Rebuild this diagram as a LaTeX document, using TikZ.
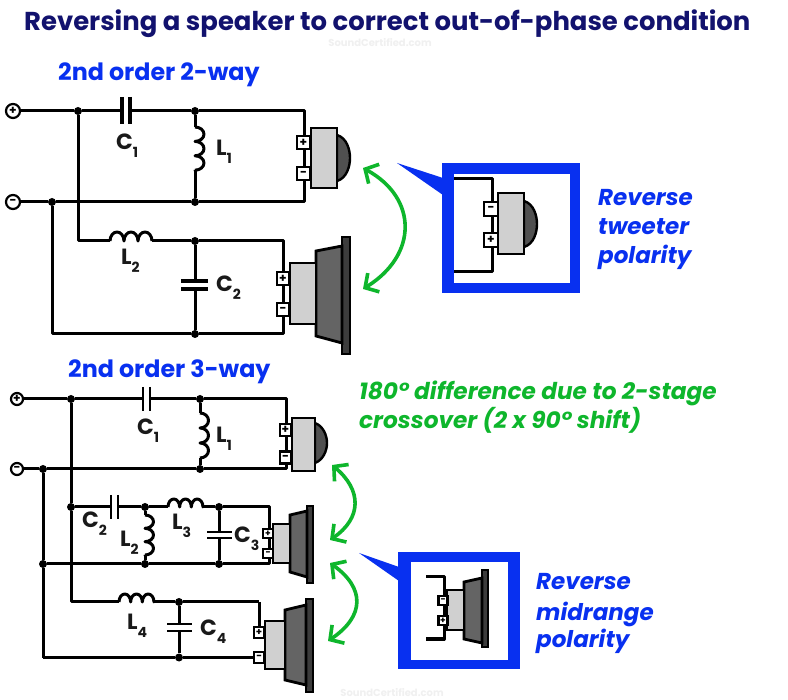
\documentclass[tikz,border=0pt]{standalone}
\usepackage{fontspec}
\setmainfont{Poppins}
\usetikzlibrary{arrows.meta}
\definecolor{bluemain}{RGB}{8,48,240}
\definecolor{navy}{RGB}{18,18,110}
\definecolor{greenmain}{RGB}{14,182,44}
\definecolor{magnetgray}{RGB}{208,208,208}
\definecolor{conegray}{RGB}{100,100,100}
\definecolor{domegray}{RGB}{80,80,80}
\definecolor{rimgray}{RGB}{60,60,60}
\tikzset{
  wire/.style={line width=3pt,black,line join=round},
  part/.style={line width=2.8pt,black,line join=miter},
  junction/.style={circle,fill=black,inner sep=0pt,minimum size=8pt},
  source/.style={circle,draw=black,fill=white,line width=2.2pt,inner sep=0pt,minimum size=14pt,font=\bfseries\fontsize{12}{12}\selectfont},
  termbox/.style={rectangle,draw=black,fill=white,line width=2.4pt,inner sep=0pt,font=\bfseries\fontsize{12}{12}\selectfont},
  heading/.style={anchor=base west,inner sep=0pt,text=bluemain,font=\bfseries\fontsize{23.8}{24}\selectfont},
  titletext/.style={anchor=base west,inner sep=0pt,text=navy,font=\bfseries\fontsize{25.9}{26}\selectfont},
  notetext/.style={anchor=base west,inner sep=0pt,text=greenmain,font=\bfseries\itshape\fontsize{23.2}{23}\selectfont},
  revtext/.style={anchor=base west,inner sep=0pt,text=bluemain,font=\bfseries\itshape\fontsize{23}{23}\selectfont},
  partlabel/.style={anchor=base west,inner sep=0pt,text=black!90,font=\bfseries\fontsize{22}{22}\selectfont},
  swing/.style={line width=3.6pt,greenmain,{Straight Barb[length=10pt,width=22pt]}-{Straight Barb[length=10pt,width=22pt]}},
  wmark/.style={anchor=base,inner sep=0pt,text=black!6,font=\bfseries\fontsize{10}{10}\selectfont},
}
% label with subscript
\newcommand{\plabel}[4]{\node[partlabel] (#1) at (#2) {#3\raisebox{-8pt}{\fontsize{14}{14}\selectfont #4}};}
% coils with three bumps
\newcommand{\coilV}[4]{\draw[wire] (#1) -- ++(0,0) arc[start angle=90,end angle=-90,x radius=#3pt,y radius=#2pt] arc[start angle=90,end angle=-90,x radius=#3pt,y radius=#2pt] arc[start angle=90,end angle=-90,x radius=#3pt,y radius=#2pt] -- (#4);}
\newcommand{\coilH}[4]{\draw[wire] (#1) -- ++(0,0) arc[start angle=180,end angle=0,x radius=#2pt,y radius=#3pt] arc[start angle=180,end angle=0,x radius=#2pt,y radius=#3pt] arc[start angle=180,end angle=0,x radius=#2pt,y radius=#3pt] -- (#4);}
\begin{document}
\begin{tikzpicture}[x=1pt,y=-1pt]
\useasboundingbox (0,0) rectangle (788,700);
\fill[white] (0,0) rectangle (788,700);

% ---------- texts
\node[titletext] (title) at (24,31) {Reversing a speaker to correct out-of-phase condition};
\node[wmark] (wm1) at (380,47) {SoundCertified.com};
\node[wmark] (wm2) at (392,696) {SoundCertified.com};
\node[heading] (h1) at (58,81) {2nd order 2-way};
\node[heading] (h2) at (68,378) {2nd order 3-way};
\node[notetext] (n1) at (359,400) {180° difference due to 2-stage};
\node[notetext] (n2) at (359,429) {crossover (2 x 90° shift)};
\node[revtext] (r1) at (598,206) {Reverse};
\node[revtext] (r2) at (598,235) {tweeter};
\node[revtext] (r3) at (598,264) {polarity};
\node[revtext] (r4) at (536,590) {Reverse};
\node[revtext] (r5) at (536,620) {midrange};
\node[revtext] (r6) at (536,648) {polarity};

% ---------- 2-way circuit
\coordinate (acornT) at (304,111);
\coordinate (acornB) at (304,202);
\node[junction] (aj1) at (78,111) {};
\node[junction] (aj2) at (195,111) {};
\node[junction] (aj3) at (52,202) {};
\node[junction] (aj4) at (195,202) {};
\node[junction] (aj5) at (195,241) {};
\node[junction] (aj6) at (195,334) {};
\coordinate (acapL) at (122,111);
\coordinate (acapR) at (130,111);
\coordinate (acoilT) at (195,127);
\coordinate (acoilB) at (195,170);
\coordinate (abend) at (78,241);
\coordinate (ahcoilL) at (110,241);
\coordinate (ahcoilR) at (152,241);
\coordinate (awT) at (283,241);
\coordinate (awB) at (283,334);
\coordinate (abendB) at (52,334);
\coordinate (avcapT) at (195,281);
\coordinate (avcapB) at (195,289);

\draw[wire] (aj1) -- (acapL);
\draw[wire] (acapR) -- (aj2);
\draw[wire] (aj2) -- (acornT) -- (acornB) -- (aj4);
\draw[wire] (aj2) -- (acoilT);
\coilV{acoilT}{7.2}{9}{acoilB}
\draw[wire] (acoilB) -- (aj4);
\draw[wire] (aj4) -- (aj3);
\draw[wire] (aj1) -- (abend) -- (ahcoilL);
\coilH{ahcoilL}{7}{9}{ahcoilR}
\draw[wire] (ahcoilR) -- (aj5);
\draw[wire] (aj5) -- (awT) -- (awB) -- (aj6);
\draw[wire] (aj5) -- (avcapT);
\draw[wire] (avcapB) -- (aj6);
\draw[wire] (aj6) -- (abendB) -- (aj3);
\draw[part,line width=3.2pt] (122,97) -- (122,124) (130,97) -- (130,124);
\draw[part,line width=3.2pt] (181,281) -- (208,281) (181,289) -- (208,289);
\node[source] (ap) at (13,111) {+};
\node[source] (am) at (13,202) {−};
\draw[wire] (ap) -- (aj1);
\draw[wire] (am) -- (aj3);
\plabel{aC1}{116,150}{C}{1}
\plabel{aL1}{216,156}{L}{1}
\plabel{aL2}{121,265}{L}{2}
\plabel{aC2}{216,292}{C}{2}

% tweeter A
\fill[domegray,draw=black,line width=2.4pt] (337,135) .. controls (347,138) and (350,150) .. (350,158) .. controls (350,166) and (347,178) .. (337,181) -- cycle;
\draw[part,fill=magnetgray] (311,128) rectangle (337,188);
\node[termbox,minimum width=13pt,minimum height=13pt] (atp) at (303.5,142.5) {+};
\node[termbox,minimum width=13pt,minimum height=13pt] (atm) at (303.5,173.5) {−};
% woofer A
\draw[part,fill=rimgray] (342,237) rectangle (350,354);
\draw[part,fill=conegray] (316,251) -- (342,246) -- (342,343) -- (316,336) -- cycle;
\draw[part,fill=magnetgray] (290,263) rectangle (316,324);
\node[termbox,minimum width=12pt,minimum height=13pt] (awp) at (283,278.5) {+};
\node[termbox,minimum width=12pt,minimum height=13pt] (awm) at (283,309.5) {−};

% ---------- swing arrows
\coordinate (s1a) at (363,168);
\coordinate (s1b) at (363,289);
\coordinate (s2a) at (332,465);
\coordinate (s2b) at (330,540);
\coordinate (s3a) at (330,563);
\coordinate (s3b) at (328,641);
\draw[swing] (s1a) .. controls (418,198) and (418,255) .. (s1b);
\draw[swing] (s2a) .. controls (362,490) and (362,518) .. (s2b);
\draw[swing] (s3a) .. controls (365,588) and (365,616) .. (s3b);

% ---------- callout 1
\fill[bluemain] (397,163) -- (443,178) -- (443,195) -- cycle;
\fill[bluemain] (442,163) rectangle (580,293);
\fill[white] (454,174) rectangle (570,283);
\coordinate (c1a) at (454,179);
\coordinate (c1b) at (492,179);
\coordinate (c1c) at (492,272);
\coordinate (c1d) at (454,272);
\draw[wire] (c1a) -- (c1b) -- (c1c) -- (c1d);
\fill[domegray,draw=black,line width=2.4pt] (524,201) .. controls (534,204) and (537,216) .. (537,224) .. controls (537,232) and (534,244) .. (524,247) -- cycle;
\draw[part,fill=magnetgray] (498,193) rectangle (524,254);
\node[termbox,minimum width=14pt,minimum height=14pt] (ctm) at (491,209) {−};
\node[termbox,minimum width=14pt,minimum height=14pt] (ctp) at (491,240) {+};

% ---------- 3-way circuit
\coordinate (bcapL) at (143,399);
\coordinate (bcapR) at (150,399);
\coordinate (bcT) at (286,399);
\coordinate (bcB) at (286,469);
\node[junction] (bj1) at (71,399) {};
\node[junction] (bj2) at (200,399) {};
\node[junction] (bj3) at (43,469) {};
\node[junction] (bj4) at (200,469) {};
\node[junction] (bj5) at (71,507) {};
\node[junction] (bj6) at (145,507) {};
\node[junction] (bj7) at (219,507) {};
\node[junction] (bj8) at (43,564) {};
\node[junction] (bj9) at (145,564) {};
\node[junction] (bj10) at (219,564) {};
\node[junction] (bj11) at (179,602) {};
\node[junction] (bj12) at (179,657.5) {};
\coordinate (bcoilT) at (200,413);
\coordinate (bcoilB) at (200,458);
\coordinate (b2capL) at (111,507);
\coordinate (b2capR) at (118,507);
\coordinate (b3L) at (168,507);
\coordinate (b3R) at (203,507);
\coordinate (b2T) at (145,515);
\coordinate (b2B) at (145,555);
\coordinate (bmT) at (269,507);
\coordinate (bmB) at (269,564);
\coordinate (b3vT) at (219,532);
\coordinate (b3vB) at (219,538);
\coordinate (b4bend) at (71,602);
\coordinate (b4L) at (119,602);
\coordinate (b4R) at (154,602);
\coordinate (bwT) at (259,602);
\coordinate (b4vT) at (179,624);
\coordinate (b4vB) at (179,631);
\coordinate (bbB) at (43,657.5);

\draw[wire] (bj1) -- (bcapL);
\draw[wire] (bcapR) -- (bj2);
\draw[wire] (bj2) -- (bcT) -- (bcB) -- (bj4);
\draw[wire] (bj2) -- (bcoilT);
\coilV{bcoilT}{7.5}{8.5}{bcoilB}
\draw[wire] (bcoilB) -- (bj4);
\draw[wire] (bj4) -- (bj3);
\draw[wire] (bj1) -- (bj5);
\draw[wire] (bj5) -- (b4bend) -- (b4L);
\draw[wire] (bj5) -- (b2capL);
\draw[wire] (b2capR) -- (bj6);
\draw[wire] (bj6) -- (b3L);
\coilH{b3L}{5.83}{8}{b3R}
\draw[wire] (b3R) -- (bj7);
\draw[wire] (bj7) -- (bmT) -- (bmB) -- (bj10);
\draw[wire] (bj6) -- (b2T);
\coilV{b2T}{6.67}{8.5}{b2B}
\draw[wire] (b2B) -- (bj9);
\draw[wire] (bj7) -- (b3vT);
\draw[wire] (b3vB) -- (bj10);
\draw[wire] (bj10) -- (bj9);
\draw[wire] (bj9) -- (bj8);
\draw[wire] (bj3) -- (bj8);
\draw[wire] (bj8) -- (bbB);
\coilH{b4L}{5.83}{8}{b4R}
\draw[wire] (b4R) -- (bj11);
\draw[wire] (bj11) -- (bwT);
\draw[wire] (bj11) -- (b4vT);
\draw[wire] (b4vB) -- (bj12);
\draw[wire] (bbB) -- (bj12);
\draw[part] (143,387) -- (143,411) (150,387) -- (150,411);
\draw[part] (111,495) -- (111,519) (118,495) -- (118,519);
\draw[part] (207,532) -- (232,532) (207,538) -- (232,538);
\draw[part] (167,624) -- (192,624) (167,631) -- (192,631);
\node[source,minimum size=12pt] (bp) at (17,399) {+};
\node[source,minimum size=12pt] (bm) at (17,469) {−};
\draw[wire] (bp) -- (bj1);
\draw[wire] (bm) -- (bj3);
\plabel{bC1}{137,435}{C}{1}
\plabel{bL1}{216,443}{L}{1}
\plabel{bC2}{82,528}{C}{2}
\plabel{bL2}{120,547}{L}{2}
\plabel{bL3}{172,530}{L}{3}
\plabel{bC3}{234,543}{C}{3}
\plabel{bL4}{127,630}{L}{4}
\plabel{bC4}{200,635}{C}{4}

% tweeter B
\fill[domegray,draw=black,line width=2.4pt] (315,423) .. controls (323,426) and (327,435) .. (327,443) .. controls (327,451) and (323,460) .. (315,463) -- cycle;
\draw[part,fill=magnetgray] (292,418) rectangle (315,471);
\node[termbox,minimum width=11pt,minimum height=12pt] (btp) at (285.5,430) {+};
\node[termbox,minimum width=11pt,minimum height=12pt] (btm) at (285.5,457.5) {−};
% mid B
\draw[part,fill=rimgray] (307,506) rectangle (313,583);
\draw[part,fill=conegray] (290,515) -- (307,511) -- (307,577) -- (290,572) -- cycle;
\draw[part,fill=magnetgray] (273,524) rectangle (290,563);
\node[termbox,minimum width=10pt,minimum height=9pt,font=\bfseries\fontsize{9}{9}\selectfont] (bmp) at (268,533.5) {+};
\node[termbox,minimum width=10pt,minimum height=9pt,font=\bfseries\fontsize{9}{9}\selectfont] (bmm) at (268,553.5) {−};
% woofer B
\draw[part,fill=rimgray] (306,599) rectangle (313,692);
\draw[part,fill=conegray] (285,610) -- (306,605) -- (306,685) -- (285,680) -- cycle;
\draw[part,fill=magnetgray] (265,621) rectangle (285,669);
\draw[wire] (bwT) -- (259,627);
\draw[wire] (bj12) -- (254,657.5);
\node[termbox,minimum width=10pt,minimum height=11pt,font=\bfseries\fontsize{10}{10}\selectfont] (bwp) at (259,632.5) {+};
\node[termbox,minimum width=10pt,minimum height=11pt,font=\bfseries\fontsize{10}{10}\selectfont] (bwm) at (259,657.5) {−};

% ---------- callout 2
\fill[bluemain] (359,553) -- (399,567) -- (399,581) -- cycle;
\fill[bluemain] (398,552) rectangle (520,669);
\fill[white] (411,562) rectangle (508,660);
\coordinate (c2a) at (426,577);
\coordinate (c2b) at (444,577);
\coordinate (c2c) at (444,639);
\coordinate (c2d) at (426,639);
\draw[wire] (c2a) -- (c2b) -- (c2c) -- (c2d);
\draw[part,fill=rimgray] (482,570) rectangle (488,647);
\draw[part,fill=conegray] (464,582) -- (482,578) -- (482,643) -- (464,639) -- cycle;
\draw[part,fill=magnetgray] (447,590) rectangle (464,630);
\node[termbox,minimum width=9pt,minimum height=9pt,font=\bfseries\fontsize{9}{9}\selectfont] (cmm) at (443,600.5) {−};
\node[termbox,minimum width=9pt,minimum height=9pt,font=\bfseries\fontsize{9}{9}\selectfont] (cmp) at (443,620.5) {+};
\end{tikzpicture}
\end{document}
